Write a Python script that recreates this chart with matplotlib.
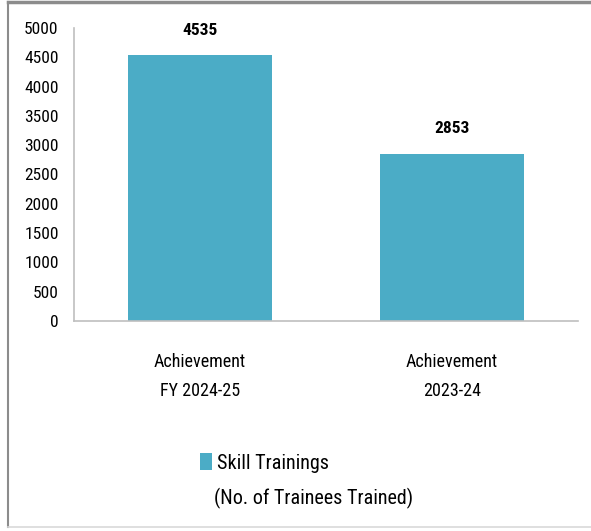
import matplotlib.pyplot as plt
from matplotlib.lines import Line2D

categories = ["Achievement\nFY 2024-25", "Achievement\n2023-24"]
trainees = [4535, 2853]
series_name = "Skill Trainings"
series_note = "(No. of Trainees Trained)"

plt.rcParams["font.family"] = ["Roboto Condensed", "Open Sans Condensed", "Liberation Sans"]

fig = plt.figure(figsize=(5.91, 5.31), dpi=100)
ax = fig.add_axes([0.1252, 0.3955, 0.8528, 0.5518])

x = range(len(categories))
bars = ax.bar(x, trainees, width=0.57, color="#4BACC6", label=series_name)

for b, v in zip(bars, trainees):
    ax.annotate(str(v), (b.get_x() + b.get_width() / 2, v), xytext=(0, 12.5),
                textcoords="offset points", ha="center", va="bottom",
                fontsize=12.5, fontweight="bold")

ax.set_xlim(-0.5, 1.5)
ax.set_ylim(0, 5000)
ax.set_yticks(range(0, 5001, 500))
ax.set_xticks(list(x))
ax.set_xticklabels(categories, fontsize=13, linespacing=1.8)
ax.tick_params(axis="y", length=0, labelsize=12.5, pad=11)
ax.tick_params(axis="x", length=0, pad=23)

for s in ["top", "right"]:
    ax.spines[s].set_visible(False)
for s in ["left", "bottom"]:
    ax.spines[s].set_color("#bfbfbf")
    ax.spines[s].set_linewidth(1.2)

leg = fig.legend(handles=[bars[0]], labels=[series_name], loc="center left",
                 bbox_to_anchor=(0.339, 0.128), frameon=False, fontsize=14.5,
                 handlelength=0.6, handleheight=0.9, handletextpad=0.25,
                 borderpad=0, borderaxespad=0)
fig.text(0.362, 0.062, series_note, fontsize=14.5, ha="left", va="center")

# outer frame
fig.add_artist(Line2D([0.013, 1.0], [0.997, 0.997], color="#8c8c8c", lw=2.5))
fig.add_artist(Line2D([0.013, 0.013], [0.007, 0.997], color="#8c8c8c", lw=1.5))
fig.add_artist(Line2D([0.013, 1.0], [0.007, 0.007], color="#d9d9d9", lw=1.2))

fig.savefig("out.png", dpi=100)
